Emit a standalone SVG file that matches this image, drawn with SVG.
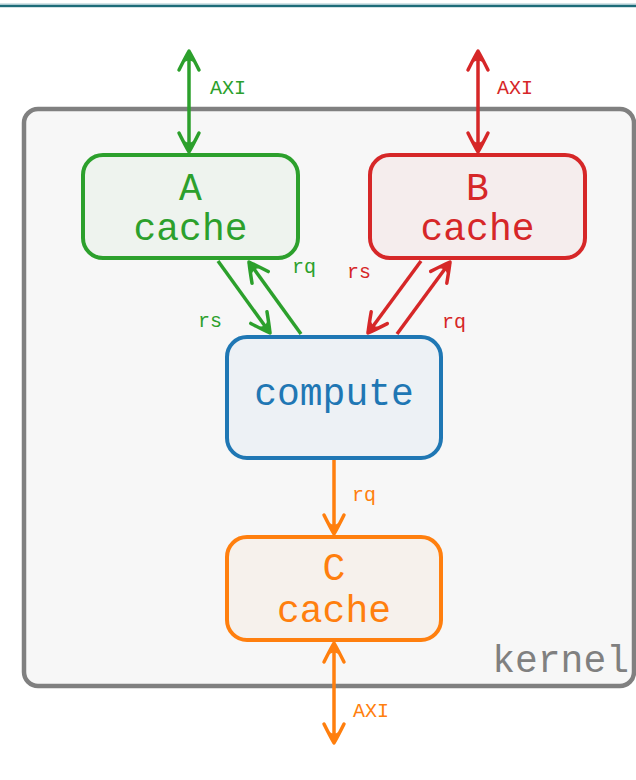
<svg xmlns="http://www.w3.org/2000/svg" width="636" height="780" viewBox="0 0 636 780">
  <defs>
    <style>
      .lbl { font-family: "Liberation Mono", "DejaVu Sans Mono", monospace; }
      .big { font-size: 38px; }
      .small { font-size: 20px; }
      .box { stroke-width: 4; }
      .wire { stroke-width: 3.5; fill: none; }
    </style>
    <!-- curved-barb arrowheads, one per colour -->
    <marker id="ah-green" viewBox="-24 -14 28 28" refX="0" refY="0" markerWidth="28" markerHeight="28" markerUnits="userSpaceOnUse" orient="auto-start-reverse">
      <path d="M-19,-10 Q-7,-4 0,0 Q-7,4 -19,10" fill="none" stroke="#2ca02c" stroke-width="3.5" stroke-linecap="round" stroke-linejoin="round"/>
      <path d="M0,0 L-11,-4.5 Q-8,0 -11,4.5 Z" fill="#2ca02c"/>
    </marker>
    <marker id="ah-red" viewBox="-24 -14 28 28" refX="0" refY="0" markerWidth="28" markerHeight="28" markerUnits="userSpaceOnUse" orient="auto-start-reverse">
      <path d="M-19,-10 Q-7,-4 0,0 Q-7,4 -19,10" fill="none" stroke="#d62728" stroke-width="3.5" stroke-linecap="round" stroke-linejoin="round"/>
      <path d="M0,0 L-11,-4.5 Q-8,0 -11,4.5 Z" fill="#d62728"/>
    </marker>
    <marker id="ah-orange" viewBox="-24 -14 28 28" refX="0" refY="0" markerWidth="28" markerHeight="28" markerUnits="userSpaceOnUse" orient="auto-start-reverse">
      <path d="M-19,-10 Q-7,-4 0,0 Q-7,4 -19,10" fill="none" stroke="#ff7f0e" stroke-width="3.5" stroke-linecap="round" stroke-linejoin="round"/>
      <path d="M0,0 L-11,-4.5 Q-8,0 -11,4.5 Z" fill="#ff7f0e"/>
    </marker>
  </defs>

  <rect x="0" y="0" width="636" height="780" fill="#ffffff"/>
  <!-- top rule -->
  <rect x="0" y="3.5" width="636" height="1.5" fill="#a9c9d0"/>
  <rect x="0" y="5" width="636" height="2.2" fill="#1d6c79"/>

  <!-- kernel frame -->
  <g id="kernel">
    <rect x="24" y="109" width="610" height="577" rx="14" fill="#f7f7f7" stroke="#808080" stroke-width="4.5"/>
    <text class="lbl big" x="629" y="672" text-anchor="end" fill="#808080">kernel</text>
  </g>

  <!-- connectors -->
  <g id="connectors">
    <path class="wire" stroke="#2ca02c" d="M189,51 L189,152" marker-start="url(#ah-green)" marker-end="url(#ah-green)"/>
    <text class="lbl small" x="210" y="94" fill="#2ca02c">AXI</text>
    <path class="wire" stroke="#d62728" d="M478,51 L478,152" marker-start="url(#ah-red)" marker-end="url(#ah-red)"/>
    <text class="lbl small" x="497" y="94" fill="#d62728">AXI</text>

    <path class="wire" stroke="#2ca02c" d="M218,261 L270,333" marker-end="url(#ah-green)"/>
    <path class="wire" stroke="#2ca02c" d="M301,334 L249,262" marker-end="url(#ah-green)"/>
    <text class="lbl small" x="198" y="327" fill="#2ca02c">rs</text>
    <text class="lbl small" x="292" y="273" fill="#2ca02c">rq</text>

    <path class="wire" stroke="#d62728" d="M421,261 L368,333" marker-end="url(#ah-red)"/>
    <path class="wire" stroke="#d62728" d="M397,334 L450,262" marker-end="url(#ah-red)"/>
    <text class="lbl small" x="347" y="278" fill="#d62728">rs</text>
    <text class="lbl small" x="442" y="328" fill="#d62728">rq</text>

    <path class="wire" stroke="#ff7f0e" d="M334,460 L334,534" marker-end="url(#ah-orange)"/>
    <text class="lbl small" x="352" y="501" fill="#ff7f0e">rq</text>
    <path class="wire" stroke="#ff7f0e" d="M334,643 L334,743" marker-start="url(#ah-orange)" marker-end="url(#ah-orange)"/>
    <text class="lbl small" x="353" y="717" fill="#ff7f0e">AXI</text>
  </g>

  <g id="a-cache">
    <rect class="box" x="83" y="155" width="215" height="103" rx="20" fill="#eef3ee" stroke="#2ca02c"/>
    <text class="lbl big" x="190.5" y="200" text-anchor="middle" fill="#2ca02c">A</text>
    <text class="lbl big" x="190.5" y="240" text-anchor="middle" fill="#2ca02c">cache</text>
  </g>

  <g id="b-cache">
    <rect class="box" x="370" y="155" width="215" height="103" rx="20" fill="#f5eded" stroke="#d62728"/>
    <text class="lbl big" x="477.5" y="200" text-anchor="middle" fill="#d62728">B</text>
    <text class="lbl big" x="477.5" y="240" text-anchor="middle" fill="#d62728">cache</text>
  </g>

  <g id="compute">
    <rect class="box" x="227" y="337" width="214" height="121" rx="20" fill="#edf1f5" stroke="#1f77b4"/>
    <text class="lbl big" x="334" y="405" text-anchor="middle" fill="#1f77b4">compute</text>
  </g>

  <g id="c-cache">
    <rect class="box" x="227" y="537" width="214" height="103" rx="20" fill="#f6f1ec" stroke="#ff7f0e"/>
    <text class="lbl big" x="334" y="580" text-anchor="middle" fill="#ff7f0e">C</text>
    <text class="lbl big" x="334" y="622" text-anchor="middle" fill="#ff7f0e">cache</text>
  </g>
</svg>
